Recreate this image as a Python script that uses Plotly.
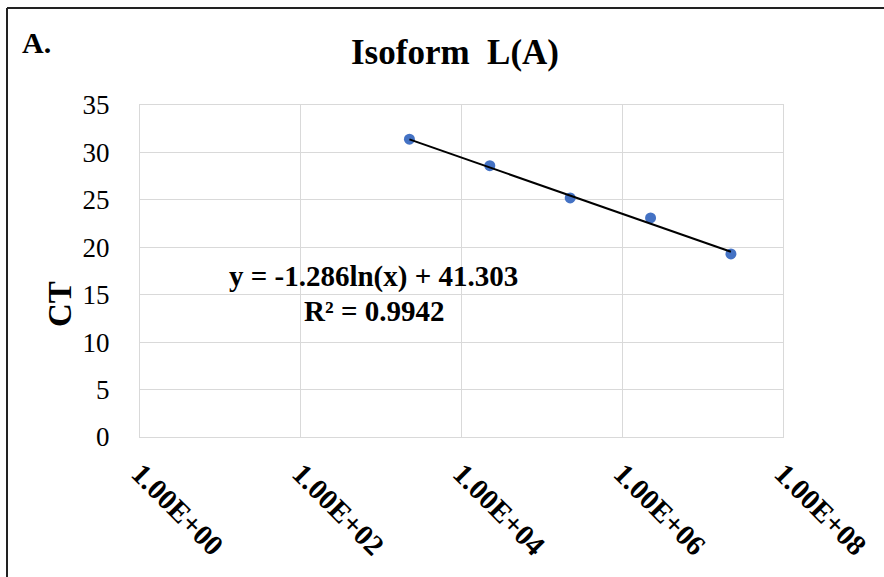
import plotly.graph_objects as go
import math

# ---- data ----
copies = [2.25e3, 2.25e4, 2.25e5, 2.25e6, 2.25e7]
ct_values = [31.4, 28.6, 25.2, 23.1, 19.3]
fit_slope = -1.286
fit_intercept = 41.303
fit_text = "y = -1.286ln(x) + 41.303"
r2_text = "R² = 0.9942"
x_tickvals = [1e0, 1e2, 1e4, 1e6, 1e8]
x_ticktext = ["1.00E+00", "1.00E+02", "1.00E+04", "1.00E+06", "1.00E+08"]
y_tickvals = [0, 5, 10, 15, 20, 25, 30, 35]

fit_x = [min(copies), max(copies)]
fit_y = [fit_slope * math.log(v) + fit_intercept for v in fit_x]

W, H = 884, 577
L, R, T, B = 140, 101, 105, 140
pw, ph = W - L - R, H - T - B

def px(xp):
    return (xp - L) / pw

def py(yp):
    return (H - B - yp) / ph

SERIF = "Liberation Serif, Times New Roman, serif"

fig = go.Figure()
fig.add_trace(go.Scatter(
    x=copies, y=ct_values, mode="markers",
    marker=dict(color="#4472C4", size=11),
    showlegend=False))
fig.add_trace(go.Scatter(
    x=fit_x, y=fit_y, mode="lines",
    line=dict(color="black", width=2),
    showlegend=False))

fig.update_layout(
    width=W, height=H,
    margin=dict(l=L, r=R, t=T, b=B),
    paper_bgcolor="white", plot_bgcolor="white",
    font=dict(family=SERIF, color="black"),
    xaxis=dict(type="log", range=[0, 8], tickvals=x_tickvals, ticktext=x_ticktext,
               tickangle=45, tickfont=dict(family=SERIF, size=29, color="black", weight="bold"),
               showgrid=True, gridcolor="#d9d9d9", gridwidth=1,
               showline=True, linecolor="#d9d9d9", mirror=True, zeroline=False,
               ticks="", ticklabelstandoff=7),
    yaxis=dict(range=[0, 35], tickvals=y_tickvals,
               tickfont=dict(family=SERIF, size=27, color="black"),
               showgrid=True, gridcolor="#d9d9d9", gridwidth=1,
               showline=True, linecolor="#d9d9d9", mirror=True, zeroline=False,
               ticks="", ticklabelstandoff=24),
    annotations=[
        dict(text="Isoform  L(A)", xref="paper", yref="paper", x=px(455), y=py(52),
             showarrow=False, font=dict(family=SERIF, size=35, color="black", weight="bold"),
             xanchor="center", yanchor="middle"),
        dict(text="A.", xref="paper", yref="paper", x=px(36), y=py(42),
             showarrow=False, font=dict(family=SERIF, size=30, color="black", weight="bold"),
             xanchor="center", yanchor="middle"),
        dict(text="CT", xref="paper", yref="paper", x=px(60), y=py(304), textangle=-90,
             showarrow=False, font=dict(family=SERIF, size=33, color="black", weight="bold"),
             xanchor="center", yanchor="middle"),
        dict(text=fit_text, xref="paper", yref="paper", x=px(373), y=py(276),
             showarrow=False, font=dict(family=SERIF, size=29, color="black", weight="bold"),
             xanchor="center", yanchor="middle"),
        dict(text=r2_text, xref="paper", yref="paper", x=px(374), y=py(311),
             showarrow=False, font=dict(family=SERIF, size=29, color="black", weight="bold"),
             xanchor="center", yanchor="middle"),
    ],
    shapes=[
        dict(type="line", xref="paper", yref="paper", x0=px(7), x1=px(W + 5), y0=py(8), y1=py(8),
             line=dict(color="#222222", width=2)),
        dict(type="line", xref="paper", yref="paper", x0=px(7), x1=px(7), y0=py(8), y1=py(H + 5),
             line=dict(color="#222222", width=2)),
    ],
)

fig.write_html("out.html")
